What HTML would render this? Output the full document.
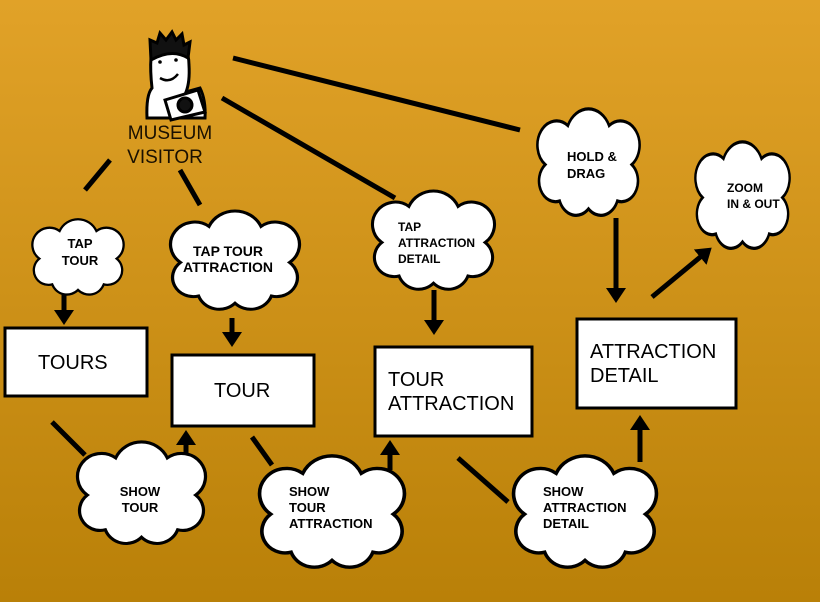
<!DOCTYPE html>
<html><head><meta charset="utf-8"><style>
html,body{margin:0;padding:0}
body{width:820px;height:602px;overflow:hidden;background:linear-gradient(#e1a228,#b98008);}
svg{display:block}
.c{font-family:"Liberation Sans",sans-serif;font-weight:bold;font-size:13px;fill:#000;text-anchor:middle}
.b{font-family:"Liberation Sans",sans-serif;font-size:20px;fill:#000}
</style></head><body>
<svg width="820" height="602" viewBox="0 0 820 602">
<defs>
<path id="cl" d="M22,70 A16,16 0 0 1 8,42 A18,18 0 0 1 30,12 A22,22 0 0 1 70,12 A18,18 0 0 1 92,42 A16,16 0 0 1 78,70 A17,17 0 0 1 50,76 A17,17 0 0 1 22,70 Z"/>
<marker id="ah" markerWidth="4" markerHeight="4" refX="1" refY="2" orient="auto" markerUnits="strokeWidth"><path d="M0,0 L3,2 L0,4 Z" fill="#000"/></marker>
</defs>
<g stroke="#000" stroke-width="5" fill="none">
<line x1="233" y1="58" x2="520" y2="130"/>
<line x1="222" y1="98" x2="395" y2="198"/>
<line x1="110" y1="160" x2="85" y2="190"/>
<line x1="180" y1="170" x2="200" y2="205"/>
<line x1="52" y1="422" x2="85" y2="455"/>
<line x1="252" y1="437" x2="272" y2="465"/>
<line x1="458" y1="458" x2="508" y2="502"/>
<line x1="64" y1="295" x2="64" y2="315" marker-end="url(#ah)"/>
<line x1="232" y1="318" x2="232" y2="337" marker-end="url(#ah)"/>
<line x1="434" y1="290" x2="434" y2="325" marker-end="url(#ah)"/>
<line x1="616" y1="218" x2="616" y2="293" marker-end="url(#ah)"/>
<line x1="652" y1="297" x2="704" y2="254" marker-end="url(#ah)"/>
<line x1="186" y1="462" x2="186" y2="440" marker-end="url(#ah)"/>
<line x1="390" y1="470" x2="390" y2="450" marker-end="url(#ah)"/>
<line x1="640" y1="462" x2="640" y2="425" marker-end="url(#ah)"/>
</g>
<g fill="#fff" stroke="#000" stroke-width="2.5">
<use href="#cl" transform="translate(32,220) scale(0.92,0.92)"/>
<use href="#cl" transform="translate(170,212) scale(1.3,1.2)"/>
<use href="#cl" transform="translate(372,192) scale(1.23,1.2)"/>
<use href="#cl" transform="translate(537,110) scale(1.03,1.3)"/>
<use href="#cl" transform="translate(695,143) scale(0.95,1.3)"/>
<use href="#cl" transform="translate(77,443) scale(1.29,1.24)"/>
<use href="#cl" transform="translate(259,457) scale(1.46,1.36)"/>
<use href="#cl" transform="translate(513,457) scale(1.44,1.36)"/>
</g>
<text class="c"><tspan x="80" y="248">TAP</tspan><tspan x="80" y="265">TOUR</tspan></text>
<text class="c"><tspan x="228" y="256" style="font-size:14px">TAP TOUR</tspan><tspan x="228" y="272" style="font-size:14px">ATTRACTION</tspan></text>
<text class="c" style="text-anchor:start;font-size:12px"><tspan x="398" y="231">TAP</tspan><tspan x="398" y="247">ATTRACTION</tspan><tspan x="398" y="263">DETAIL</tspan></text>
<text class="c" style="text-anchor:start"><tspan x="567" y="161">HOLD &amp;</tspan><tspan x="567" y="178">DRAG</tspan></text>
<text class="c" style="text-anchor:start;font-size:12px"><tspan x="727" y="192">ZOOM</tspan><tspan x="727" y="208">IN &amp; OUT</tspan></text>
<text class="c"><tspan x="140" y="496">SHOW</tspan><tspan x="140" y="512">TOUR</tspan></text>
<text class="c" style="text-anchor:start"><tspan x="289" y="496">SHOW</tspan><tspan x="289" y="512">TOUR</tspan><tspan x="289" y="528">ATTRACTION</tspan></text>
<text class="c" style="text-anchor:start"><tspan x="543" y="496">SHOW</tspan><tspan x="543" y="512">ATTRACTION</tspan><tspan x="543" y="528">DETAIL</tspan></text>
<g fill="#fff" stroke="#000" stroke-width="3">
<rect x="5" y="328" width="142" height="68"/>
<rect x="172" y="355" width="142" height="71"/>
<rect x="375" y="347" width="157" height="89"/>
<rect x="577" y="319" width="159" height="89"/>
</g>
<text class="b" x="38" y="369">TOURS</text>
<text class="b" x="214" y="397">TOUR</text>
<text class="b"><tspan x="388" y="386">TOUR</tspan><tspan x="388" y="410">ATTRACTION</tspan></text>
<text class="b"><tspan x="590" y="358">ATTRACTION</tspan><tspan x="590" y="382">DETAIL</tspan></text>
<g stroke="#000" stroke-width="3">
<path d="M147,118 Q146,95 152,88 Q150,70 151,58 Q156,42 172,42 Q189,44 189,65 Q190,82 186,92 L200,88 Q206,100 205,118 Z" fill="#fff"/>
<path d="M151,60 L150,40 L157,43 L160,33 L166,40 L172,32 L176,40 L182,34 L184,45 L190,42 L188,58 Q172,48 151,60 Z" fill="#111"/>
<path d="M165,100 L198,90 L205,112 L171,120 Z" fill="#fff"/>
<circle cx="185" cy="105" r="7" fill="#111"/>
</g>
<path d="M160,78 Q170,84 178,74" stroke="#000" stroke-width="2.5" fill="none"/>
<circle cx="160" cy="62" r="1.8"/><circle cx="176" cy="60" r="1.8"/>
<text style="font-family:'Liberation Sans',sans-serif;font-size:19px;fill:#1a1000" text-anchor="middle"><tspan x="170" y="139">MUSEUM</tspan><tspan x="165" y="163">VISITOR</tspan></text>
</svg>
</body></html>
